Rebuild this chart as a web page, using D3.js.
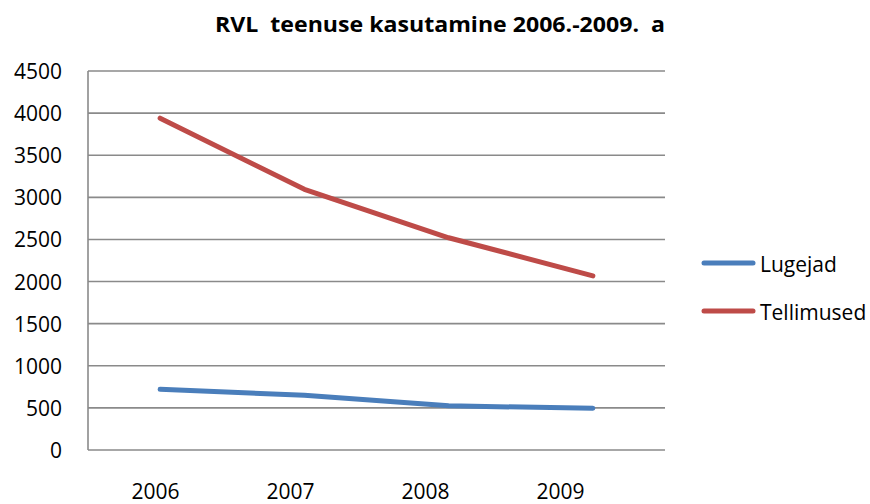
<!DOCTYPE html>
<html><head><meta charset="utf-8">
<script src="https://cdn.jsdelivr.net/npm/d3@7/dist/d3.min.js"></script>
<style>body{margin:0;background:#fff}svg{display:block}text{white-space:pre}</style>
</head><body>
<svg id="c" width="870" height="504"></svg>
<script>
const categories = ["2006","2007","2008","2009"];
const lugejad = [720, 650, 524, 495];
const tellimused = [3940, 3095, 2520, 2068];
const yTicks = [0,500,1000,1500,2000,2500,3000,3500,4000,4500];
const seriesNames = ["Lugejad","Tellimused"];
const colors = ["#4a7ebb","#be4b48"];
const title = "RVL  teenuse kasutamine 2006.-2009.  a";

const svg = d3.select("#c");
const font = "'Open Sans', 'Noto Sans', sans-serif";
const plotL = 88, plotR = 665, plotT = 71, plotB = 450;

const x = d3.scalePoint().domain(categories).range([plotL, plotR]).padding(0.5);
const xLab = d3.scalePoint().domain(categories).range([plotL, 628]).padding(0.5);
const y = d3.scaleLinear().domain([0, 4500]).range([plotB, plotT]);

// gridlines
svg.append("g").selectAll("line").data(yTicks).join("line")
  .attr("x1", plotL).attr("x2", plotR)
  .attr("y1", d => y(d)).attr("y2", d => y(d))
  .attr("stroke", "#8a8a8a").attr("stroke-width", 1.6);
svg.append("line").attr("x1", plotL).attr("x2", plotL).attr("y1", plotT).attr("y2", plotB)
  .attr("stroke", "#8a8a8a").attr("stroke-width", 1.6);

// y labels
svg.append("g").selectAll("text").data(yTicks).join("text")
  .attr("x", 62).attr("y", d => y(d) + 8)
  .attr("text-anchor", "end").attr("font-family", font).attr("font-size", 21)
  .attr("fill", "#000").text(d => d);

// x labels
svg.append("g").selectAll("text").data(categories).join("text")
  .attr("x", d => xLab(d)).attr("y", 499)
  .attr("text-anchor", "middle").attr("font-family", font).attr("font-size", 21)
  .attr("fill", "#000").text(d => d);

const line = d3.line().x((d, i) => x(categories[i])).y(d => y(d)).curve(d3.curveLinear);
[lugejad, tellimused].forEach((s, i) => {
  svg.append("path").datum(s).attr("d", line).attr("fill", "none")
    .attr("stroke", colors[i]).attr("stroke-width", 5).attr("stroke-linecap", "round")
    .attr("stroke-linejoin", "round");
});

// legend
const leg = svg.append("g");
seriesNames.forEach((n, i) => {
  const ly = 263 + i * 48;
  leg.append("line").attr("x1", 704).attr("x2", 753).attr("y1", ly).attr("y2", ly)
    .attr("stroke", colors[i]).attr("stroke-width", 5).attr("stroke-linecap", "round");
  leg.append("text").attr("x", 760).attr("y", ly + 9).attr("font-family", font)
    .attr("font-size", 21).attr("fill", "#000").text(n);
});

// title
svg.append("text").attr("x", 440).attr("y", 32).attr("text-anchor", "middle")
  .attr("font-family", font).attr("font-weight", "bold").attr("font-size", 22)
  .attr("textLength", 450).attr("lengthAdjust", "spacingAndGlyphs")
  .attr("fill", "#000").text(title);
</script>
</body></html>
